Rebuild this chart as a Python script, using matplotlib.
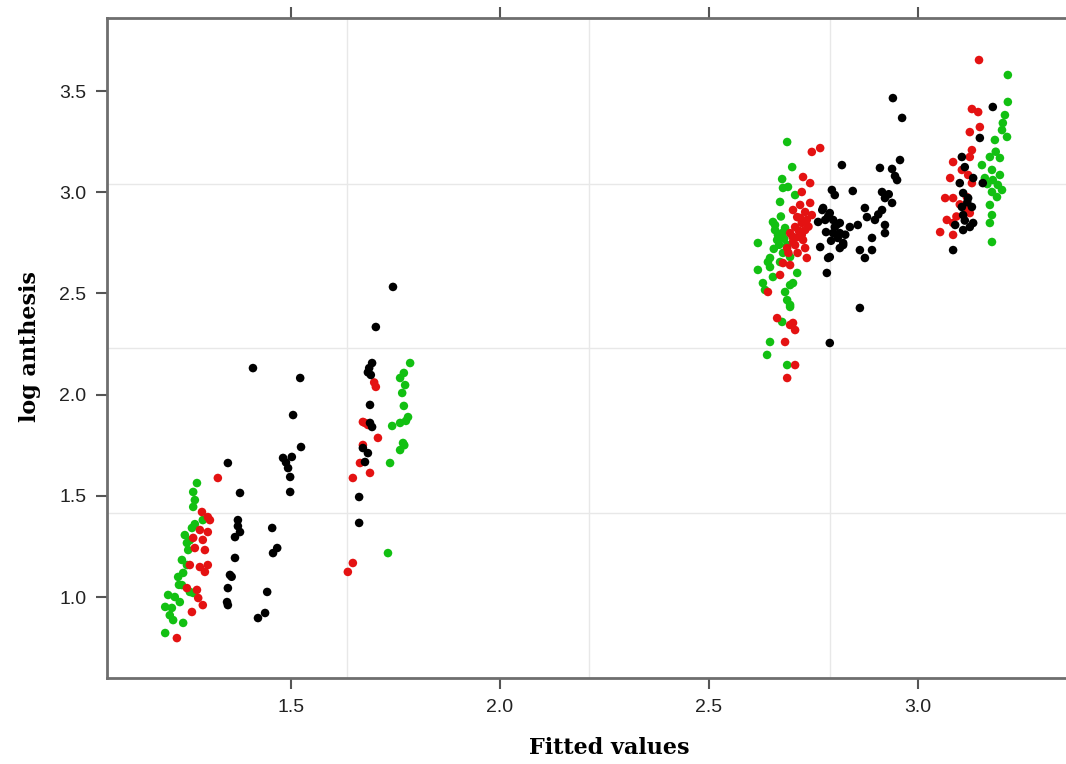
import matplotlib.pyplot as plt
import numpy as np

# fitted values vs log anthesis, three groups (black / red / green)
black_pts = [
    # low group
    (1.349, 1.662), (1.378, 1.514), (1.373, 1.380), (1.378, 1.321), (1.366, 1.296),
    (1.366, 1.193), (1.354, 1.109), (1.349, 1.044), (1.347, 0.975), (1.349, 0.960),
    (1.373, 1.350), (1.358, 1.100),
    (1.409, 2.131), (1.455, 1.341), (1.467, 1.242), (1.457, 1.217), (1.443, 1.025),
    (1.438, 0.921), (1.421, 0.896),
    (1.522, 2.082), (1.505, 1.899), (1.524, 1.741), (1.481, 1.687), (1.502, 1.692),
    (1.493, 1.637), (1.498, 1.593), (1.498, 1.519), (1.488, 1.665),
    (1.744, 2.532), (1.703, 2.334), (1.694, 2.156), (1.687, 2.131), (1.691, 2.097),
    (1.689, 1.949), (1.689, 1.860), (1.672, 1.736), (1.684, 1.711), (1.677, 1.667),
    (1.663, 1.494), (1.663, 1.366), (1.684, 2.110), (1.694, 1.840),
    # high group
    (2.818, 3.134), (2.794, 3.011), (2.801, 2.986), (2.771, 2.912), (2.789, 2.897),
    (2.778, 2.863), (2.801, 2.828), (2.813, 2.798), (2.821, 2.739), (2.766, 2.729),
    (2.785, 2.675), (2.782, 2.601), (2.789, 2.255),
    (2.940, 3.465), (2.962, 3.367), (2.909, 3.120), (2.938, 3.115), (2.957, 3.159),
    (2.950, 3.060), (2.844, 3.006), (2.914, 3.001), (2.921, 2.971), (2.938, 2.947),
    (2.773, 2.922), (2.873, 2.922), (2.914, 2.912), (2.797, 2.863), (2.813, 2.848),
    (2.837, 2.828), (2.856, 2.838), (2.878, 2.877), (2.897, 2.863), (2.921, 2.838),
    (2.797, 2.798), (2.821, 2.749), (2.921, 2.798), (2.890, 2.774), (2.813, 2.724),
    (2.861, 2.714), (2.890, 2.714), (2.873, 2.675), (2.789, 2.680), (2.861, 2.428),
    (2.761, 2.853), (2.780, 2.803), (2.808, 2.774),
    (2.785, 2.880), (2.806, 2.840), (2.792, 2.760), (2.826, 2.790), (2.930, 2.990),
    (2.905, 2.890), (2.945, 3.080),
    (3.179, 3.421), (3.148, 3.268), (3.105, 3.174), (3.112, 3.124), (3.132, 3.070),
    (3.155, 3.045), (3.100, 3.045), (3.108, 2.996), (3.120, 2.971), (3.105, 2.927),
    (3.129, 2.927), (3.108, 2.887), (3.132, 2.848), (3.108, 2.813), (3.089, 2.838),
    (3.084, 2.714), (3.124, 2.828), (3.118, 2.950), (3.112, 2.860),
]

red_pts = [
    (1.325, 1.588), (1.287, 1.420), (1.301, 1.395), (1.306, 1.380), (1.282, 1.331),
    (1.301, 1.321), (1.266, 1.292), (1.289, 1.282), (1.270, 1.242), (1.294, 1.232),
    (1.258, 1.158), (1.282, 1.148), (1.301, 1.158), (1.294, 1.124), (1.275, 1.035),
    (1.278, 0.995), (1.289, 0.960), (1.263, 0.926), (1.227, 0.797), (1.251, 1.044),
    (1.703, 2.038), (1.672, 1.865), (1.684, 1.850), (1.708, 1.786), (1.672, 1.751),
    (1.665, 1.662), (1.689, 1.613), (1.648, 1.588), (1.648, 1.168), (1.636, 1.124),
    (1.699, 2.060), (1.677, 1.860),
    (2.746, 3.199), (2.766, 3.218), (2.725, 3.075), (2.742, 3.045), (2.722, 3.001),
    (2.742, 2.947), (2.701, 2.912), (2.730, 2.902), (2.718, 2.873), (2.734, 2.863),
    (2.706, 2.828), (2.730, 2.813), (2.694, 2.798), (2.713, 2.779), (2.701, 2.754),
    (2.687, 2.724), (2.730, 2.724), (2.734, 2.675), (2.677, 2.650), (2.694, 2.640),
    (2.641, 2.507), (2.663, 2.378), (2.701, 2.354), (2.706, 2.319), (2.682, 2.260),
    (2.706, 2.146), (2.687, 2.082), (2.711, 2.877), (2.722, 2.848),
    (2.718, 2.937), (2.746, 2.887), (2.706, 2.739), (2.725, 2.764), (2.670, 2.591),
    (2.694, 2.344), (2.715, 2.810), (2.700, 2.780), (2.722, 2.790), (2.690, 2.700),
    (2.712, 2.700), (2.738, 2.830),
    (3.146, 3.653), (3.129, 3.411), (3.144, 3.396), (3.124, 3.297), (3.148, 3.322),
    (3.129, 3.208), (3.084, 3.149), (3.124, 3.174), (3.105, 3.110), (3.077, 3.070),
    (3.120, 3.085), (3.129, 3.045), (3.065, 2.971), (3.084, 2.971), (3.117, 2.976),
    (3.069, 2.863), (3.120, 2.912), (3.084, 2.848), (3.053, 2.803), (3.084, 2.789),
    (3.124, 2.897), (3.100, 2.940), (3.092, 2.880),
]

green_pts = [
    (1.275, 1.563), (1.266, 1.519), (1.270, 1.479), (1.266, 1.445), (1.289, 1.380),
    (1.263, 1.341), (1.246, 1.306), (1.251, 1.267), (1.254, 1.232), (1.239, 1.183),
    (1.251, 1.158), (1.230, 1.099), (1.242, 1.119), (1.239, 1.059), (1.258, 1.025),
    (1.206, 1.010), (1.222, 1.000), (1.199, 0.951), (1.215, 0.946), (1.234, 0.975),
    (1.242, 0.872), (1.218, 0.886), (1.199, 0.822), (1.266, 1.020),
    (1.258, 1.280), (1.232, 1.060), (1.210, 0.910), (1.270, 1.360),
    (1.785, 2.156), (1.770, 2.107), (1.761, 2.082), (1.773, 2.047), (1.766, 2.008),
    (1.770, 1.944), (1.780, 1.889), (1.761, 1.860), (1.742, 1.845), (1.768, 1.761),
    (1.761, 1.726), (1.737, 1.662), (1.732, 1.217), (1.775, 1.870), (1.771, 1.750),
    (2.687, 3.248), (2.699, 3.124), (2.675, 3.065), (2.677, 3.021), (2.689, 3.026),
    (2.706, 2.986), (2.670, 2.952), (2.653, 2.853), (2.658, 2.813), (2.675, 2.798),
    (2.663, 2.764), (2.617, 2.749), (2.687, 2.739), (2.677, 2.700), (2.694, 2.680),
    (2.646, 2.675), (2.617, 2.616), (2.646, 2.630), (2.653, 2.581), (2.711, 2.601),
    (2.629, 2.551), (2.694, 2.541), (2.701, 2.551), (2.687, 2.467), (2.694, 2.433),
    (2.675, 2.359), (2.646, 2.260), (2.639, 2.196), (2.687, 2.146), (2.694, 2.443),
    (2.658, 2.838), (2.665, 2.789), (2.682, 2.823), (2.641, 2.655), (2.670, 2.655),
    (2.634, 2.517), (2.682, 2.507), (2.668, 2.740), (2.680, 2.770), (2.655, 2.720),
    (2.672, 2.880),
    (3.215, 3.579), (3.215, 3.446), (3.208, 3.381), (3.203, 3.342), (3.201, 3.307),
    (3.213, 3.273), (3.184, 3.258), (3.172, 3.174), (3.196, 3.169), (3.153, 3.134),
    (3.177, 3.110), (3.196, 3.085), (3.160, 3.070), (3.179, 3.060), (3.191, 3.036),
    (3.201, 3.011), (3.177, 3.001), (3.189, 2.976), (3.172, 2.937), (3.177, 2.887),
    (3.172, 2.848), (3.177, 2.754), (3.166, 3.040), (3.186, 3.200),
]

x_ticks = [1.5, 2.0, 2.5, 3.0]
y_ticks = [1.0, 1.5, 2.0, 2.5, 3.0, 3.5]
# faint background grid (not on tick positions)
grid_x = [1.634, 2.213, 2.789]
grid_y = [1.415, 2.230, 3.040]

fig = plt.figure(figsize=(10.66, 7.64), dpi=100)
# right edge of the panel runs past the figure edge
ax = fig.add_axes([107 / 1066, 86 / 764, 973 / 1066, 660 / 764])

for gx in grid_x:
    ax.axvline(gx, color="#e8e8e8", lw=1, zorder=0)
for gy in grid_y:
    ax.axhline(gy, color="#e8e8e8", lw=1, zorder=0)

for pts, col in [(green_pts, "#12c012"), (red_pts, "#e41212"), (black_pts, "black")]:
    p = np.array(pts)
    ax.scatter(p[:, 0], p[:, 1], s=38, color=col, edgecolors="none", zorder=3)

ax.set_xlim(1.0598, 3.3876)
ax.set_ylim(0.5998, 3.8607)
ax.set_xticks(x_ticks)
ax.set_yticks(y_ticks)
ax.set_xticklabels(["%.1f" % v for v in x_ticks])
ax.set_yticklabels(["%.1f" % v for v in y_ticks])

for s in ax.spines.values():
    s.set_color("#6e6e6e")
    s.set_linewidth(2)
ax.tick_params(axis="both", direction="out", length=8, width=1.5, color="#555555",
               labelsize=14, labelcolor="#222222", pad=7)
ax.tick_params(axis="x", top=True, labeltop=False)
for lab in ax.get_xticklabels() + ax.get_yticklabels():
    lab.set_family("Liberation Sans")

fig.text(609 / 1066, 1 - 748 / 764, "Fitted values", ha="center", va="center",
         family="DejaVu Serif", weight="bold", fontsize=16)
fig.text(30 / 1066, 1 - 347 / 764, "log anthesis", ha="center", va="center",
         rotation=90, family="DejaVu Serif", weight="bold", fontsize=16)

fig.savefig("out.png", dpi=100)
